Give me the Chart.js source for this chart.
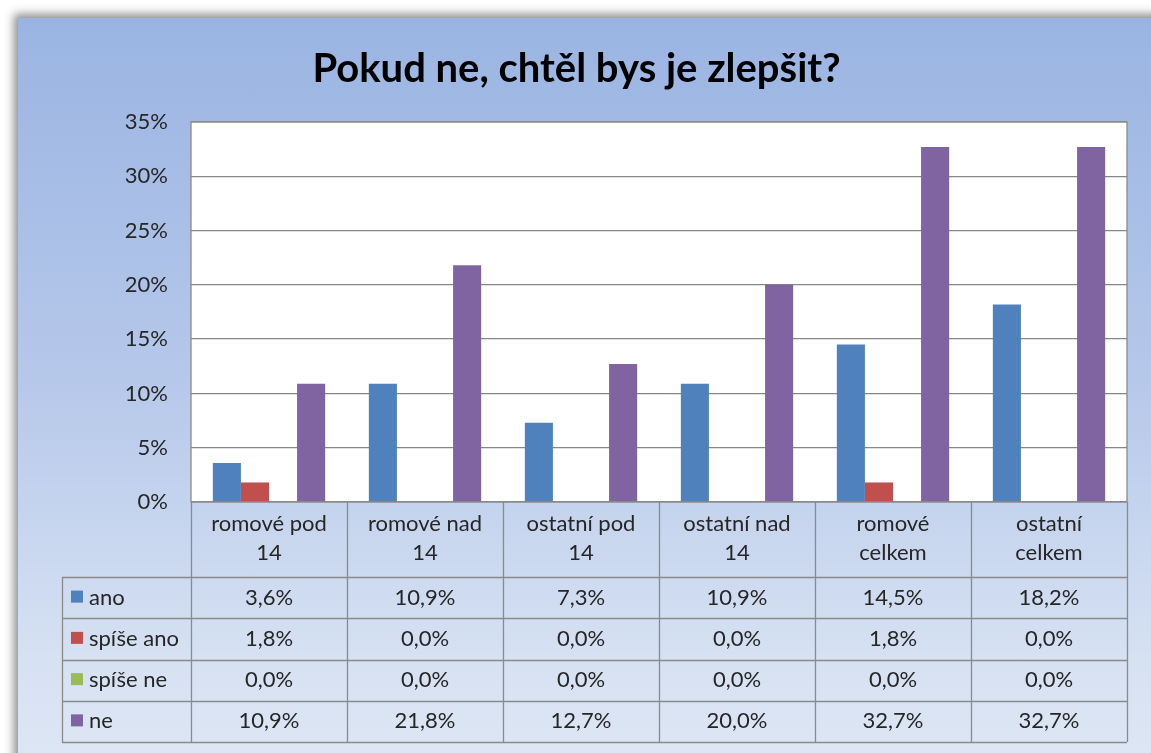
<!DOCTYPE html>
<html>
<head>
<meta charset="utf-8">
<script src="https://cdn.jsdelivr.net/npm/chart.js@4.4.1/dist/chart.umd.min.js"></script>
<style>
  html, body { margin: 0; padding: 0; background: #fff; overflow: hidden; }
  #panel {
    position: absolute; left: 18px; top: 18px; width: 1200px; height: 800px;
    background: linear-gradient(to bottom, #9ab4e2 0%, #b6c8ea 45%, #d6e1f2 80%, #e2e9f5 100%);
    box-shadow: -4px -4px 9px rgba(0,0,0,0.45);
  }
  #wrap { position: absolute; left: 0; top: 0; width: 1151px; height: 753px; }
</style>
</head>
<body>
<div id="panel"></div>
<div id="wrap"><canvas id="chart"></canvas></div>
<script>
const categories = [
  ['romové pod', '14'],
  ['romové nad', '14'],
  ['ostatní pod', '14'],
  ['ostatní nad', '14'],
  ['romové', 'celkem'],
  ['ostatní', 'celkem']
];
const seriesNames = ['ano', 'spíše ano', 'spíše ne', 'ne'];
const ano = [3.6, 10.9, 7.3, 10.9, 14.5, 18.2];
const spiseAno = [1.8, 0.0, 0.0, 0.0, 1.8, 0.0];
const spiseNe = [0.0, 0.0, 0.0, 0.0, 0.0, 0.0];
const ne = [10.9, 21.8, 12.7, 20.0, 32.7, 32.7];
const yTicks = [0, 5, 10, 15, 20, 25, 30, 35];

const colors = ['#4f81bd', '#c0504d', '#9bbb59', '#8064a2'];
const FONT = 'Lato, "Open Sans", sans-serif';
const TABLE_BOTTOM = 742;
const LEGEND_LEFT = 62;
const HEADER_H = 75;

function fmt(v) {
  return v.toFixed(1).replace('.', ',') + '%';
}

// plot background + border + data table under the plot
const tablePlugin = {
  id: 'dataTable',
  beforeDraw(chart) {
    const a = chart.chartArea;
    const ctx = chart.ctx;
    ctx.save();
    ctx.fillStyle = '#ffffff';
    ctx.fillRect(a.left, a.top, a.right - a.left, a.bottom - a.top);
    ctx.restore();
  },
  afterDraw(chart) {
    const a = chart.chartArea;
    const ctx = chart.ctx;
    const x = chart.scales.x;
    const n = categories.length;
    const colW = (a.right - a.left) / n;
    const ds = chart.data.datasets;
    const rowTop = a.bottom + HEADER_H;
    const rowH = (TABLE_BOTTOM - rowTop) / ds.length;

    ctx.save();
    ctx.strokeStyle = '#8a8a8a';
    ctx.lineWidth = 1.3;
    // plot border
    ctx.strokeRect(a.left, a.top, a.right - a.left, a.bottom - a.top);

    // vertical lines of table
    ctx.beginPath();
    for (let i = 0; i <= n; i++) {
      const px = Math.round(a.left + i * colW) + 0.5;
      ctx.moveTo(px, a.bottom);
      ctx.lineTo(px, TABLE_BOTTOM);
    }
    ctx.moveTo(LEGEND_LEFT + 0.5, rowTop);
    ctx.lineTo(LEGEND_LEFT + 0.5, TABLE_BOTTOM);
    // horizontal lines
    for (let r = 0; r <= ds.length; r++) {
      const py = Math.round(rowTop + r * rowH) + 0.5;
      ctx.moveTo(LEGEND_LEFT, py);
      ctx.lineTo(a.right, py);
    }
    ctx.stroke();

    ctx.fillStyle = '#262626';
    ctx.textAlign = 'center';
    ctx.textBaseline = 'middle';
    ctx.font = '22px ' + FONT;
    // category headers
    categories.forEach((lines, i) => {
      const cx = x.getPixelForValue(i);
      ctx.fillText(lines[0], cx, a.bottom + 22);
      ctx.fillText(lines[1], cx, a.bottom + 51);
    });
    // rows
    ds.forEach((d, r) => {
      const cy = rowTop + r * rowH + rowH / 2;
      ctx.fillStyle = d.backgroundColor;
      ctx.fillRect(LEGEND_LEFT + 9, cy - 7, 12, 12);
      ctx.fillStyle = '#262626';
      ctx.textAlign = 'left';
      ctx.fillText(d.label, LEGEND_LEFT + 27, cy);
      ctx.textAlign = 'center';
      d.data.forEach((v, i) => {
        ctx.fillText(fmt(v), x.getPixelForValue(i), cy);
      });
    });
    ctx.restore();
  }
};

const seriesData = [ano, spiseAno, spiseNe, ne];

new Chart(document.getElementById('chart'), {
  type: 'bar',
  data: {
    labels: categories.map(c => c.join(' ')),
    datasets: seriesNames.map((name, i) => ({
      label: name,
      data: seriesData[i],
      backgroundColor: colors[i],
      borderWidth: 0,
      categoryPercentage: 0.72,
      barPercentage: 1.0
    }))
  },
  options: {
    responsive: true,
    maintainAspectRatio: false,
    animation: false,
    layout: { padding: { left: 2, right: 0, top: 0, bottom: 251 } },
    plugins: {
      legend: { display: false },
      tooltip: { enabled: false },
      title: {
        display: true,
        text: 'Pokud ne, chtěl bys je zlepšit?',
        color: '#000000',
        font: { family: FONT, size: 40, weight: 'bold' },
        padding: { top: 45, bottom: 29 }
      }
    },
    scales: {
      x: {
        display: false
      },
      y: {
        min: 0,
        max: 35,
        afterFit(s) { s.width = 189; },
        afterBuildTicks(s) { s.ticks = yTicks.map(v => ({ value: v })); },
        grid: { color: '#878787', lineWidth: 1.3, drawTicks: false },
        border: { display: false },
        ticks: {
          padding: 23,
          color: '#262626',
          font: { family: FONT, size: 22 },
          callback: v => v + '%'
        }
      },
      yRight: {
        position: 'right',
        min: 0,
        max: 35,
        afterFit(s) { s.width = 24; },
        grid: { display: false },
        border: { display: false },
        ticks: { display: false }
      }
    }
  },
  plugins: [tablePlugin]
});
</script>
</body>
</html>
